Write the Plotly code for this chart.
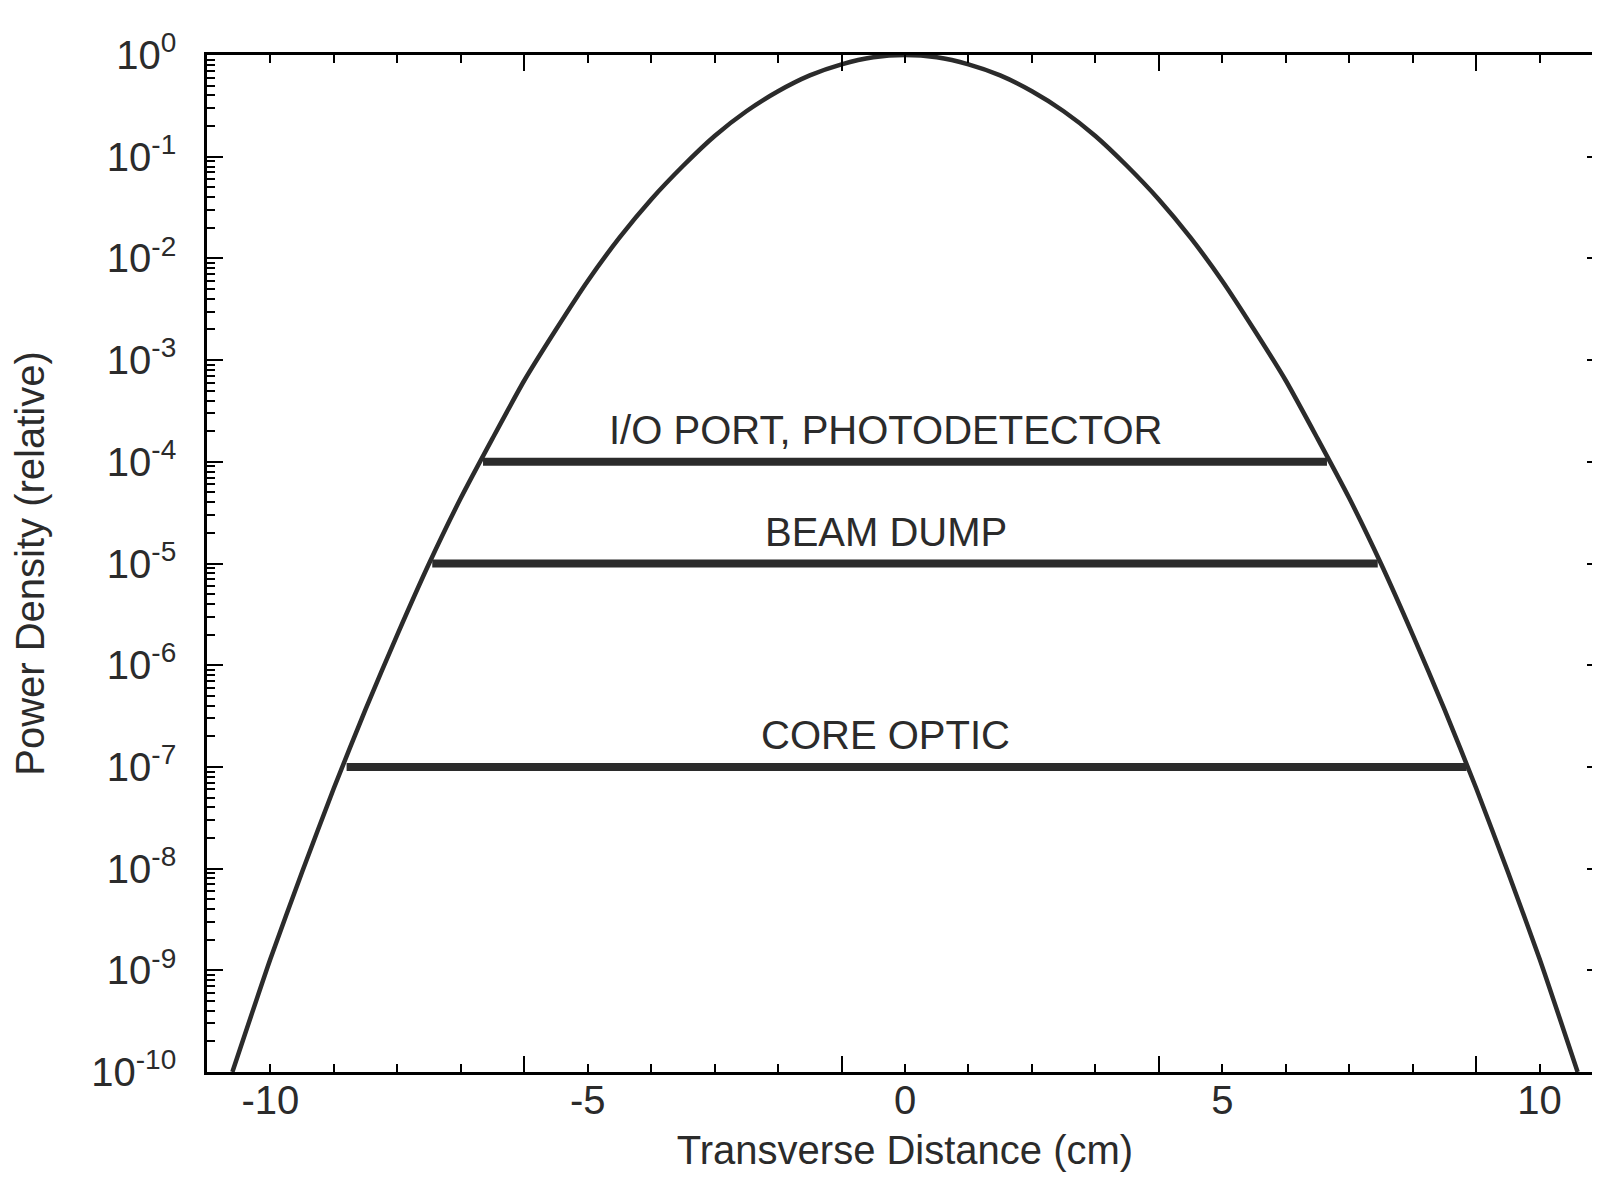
import math
import plotly.graph_objects as go

# ---- data ----
x_cm = [-10.6, -10.0, -9.5, -9.0, -8.5, -8.0, -7.5, -7.0, -6.5, -6.0, -5.5, -5.0,
        -4.5, -4.0, -3.5, -3.0, -2.5, -2.0, -1.5, -1.0, -0.5, 0.0,
        0.5, 1.0, 1.5, 2.0, 2.5, 3.0, 3.5, 4.0, 4.5, 5.0, 5.5, 6.0, 6.5,
        7.0, 7.5, 8.0, 8.5, 9.0, 9.5, 10.0, 10.6]
power_rel = [1.0e-10, 1.3e-9, 9.3e-9, 6.2e-8, 3.7e-7, 2.0e-6, 1.0e-5, 4.4e-5, 1.7e-4, 6.3e-4, 2.0e-3, 6.0e-3,
             1.6e-2, 3.8e-2, 8.1e-2, 0.16, 0.28, 0.44, 0.63, 0.81, 0.95, 1.0,
             0.95, 0.81, 0.63, 0.44, 0.28, 0.16, 8.1e-2, 3.8e-2, 1.6e-2, 6.0e-3, 2.0e-3, 6.3e-4, 1.7e-4,
             4.4e-5, 1.0e-5, 2.0e-6, 3.7e-7, 6.2e-8, 9.3e-9, 1.3e-9, 1.0e-10]

level_names = ["I/O PORT, PHOTODETECTOR", "BEAM DUMP", "CORE OPTIC"]
level_values = [1e-4, 1e-5, 1e-7]
level_left = [-6.65, -7.45, -8.8]
level_right = [6.65, 7.45, 8.85]
label_x = -0.3

y_tickvals = [1, 1e-1, 1e-2, 1e-3, 1e-4, 1e-5, 1e-6, 1e-7, 1e-8, 1e-9, 1e-10]
y_ticktext = ["10<sup>0</sup>", "10<sup>-1</sup>", "10<sup>-2</sup>", "10<sup>-3</sup>", "10<sup>-4</sup>",
              "10<sup>-5</sup>", "10<sup>-6</sup>", "10<sup>-7</sup>", "10<sup>-8</sup>", "10<sup>-9</sup>",
              "10<sup>-10</sup>"]
x_tickvals = [-10, -5, 0, 5, 10]
x_ticktext = ["-10", "-5", "0", "5", "10"]
x_long_ticks = [-6, -1, 4, 9]

FONT = "Liberation Sans, Arial, Helvetica, sans-serif"
INK = "#2b2b2b"

fig = go.Figure()

fig.add_trace(go.Scatter(x=x_cm, y=power_rel, mode="lines",
                         line=dict(color=INK, width=4.5, shape="spline", smoothing=0.6),
                         showlegend=False, hoverinfo="skip"))

for name, v, xl, xr in zip(level_names, level_values, level_left, level_right):
    fig.add_trace(go.Scatter(x=[xl, xr], y=[v, v], mode="lines", line=dict(color=INK, width=8),
                             showlegend=False, hoverinfo="skip"))
    fig.add_annotation(x=label_x, y=math.log10(v), yref="y", xref="x", text=name, showarrow=False,
                       yanchor="middle", yshift=32, font=dict(family=FONT, size=40, color=INK))

# invisible trace on overlay axis that carries the long ticks
fig.add_trace(go.Scatter(x=[-11, 11], y=[1e-10, 1e-10], xaxis="x2", mode="lines",
                         line=dict(width=0), showlegend=False, hoverinfo="skip"))

fig.update_layout(
    width=1600, height=1177,
    margin=dict(l=199, r=2, t=47, b=113),
    paper_bgcolor="white", plot_bgcolor="white",
    font=dict(family=FONT, color="black"),
    xaxis=dict(range=[-11, 11], tickmode="array", tickvals=x_tickvals, ticktext=x_ticktext,
               ticks="inside", ticklen=8, tickwidth=2, tickcolor="black",
               minor=dict(dtick=1, ticks="inside", ticklen=8, tickwidth=2, tickcolor="black"),
               showline=True, linecolor="black", linewidth=2.5, mirror="ticks",
               showgrid=False, zeroline=False,
               tickfont=dict(size=40, family=FONT, color=INK), ticklabelstandoff=-9,
               title=dict(text="Transverse Distance (cm)", font=dict(size=40, family=FONT, color=INK), standoff=16)),
    xaxis2=dict(range=[-11, 11], overlaying="x", side="bottom", tickmode="array", tickvals=x_long_ticks,
                ticks="inside", ticklen=16, tickwidth=2, tickcolor="black", showticklabels=False,
                showline=False, mirror="ticks", showgrid=False, zeroline=False),
    yaxis=dict(type="log", range=[-10, 0], tickmode="array", tickvals=y_tickvals, ticktext=y_ticktext,
               ticks="inside", ticklen=16, tickwidth=2, tickcolor="black",
               minor=dict(dtick="D1", ticks="inside", ticklen=8, tickwidth=2, tickcolor="black"),
               showline=True, linecolor="black", linewidth=2.5, mirror="ticks",
               showgrid=False, zeroline=False,
               tickfont=dict(size=40, family=FONT, color=INK), ticklabelstandoff=20,
               title=dict(text="Power Density (relative)", font=dict(size=40, family=FONT, color=INK), standoff=38)),
)

fig.write_html("out.html")
